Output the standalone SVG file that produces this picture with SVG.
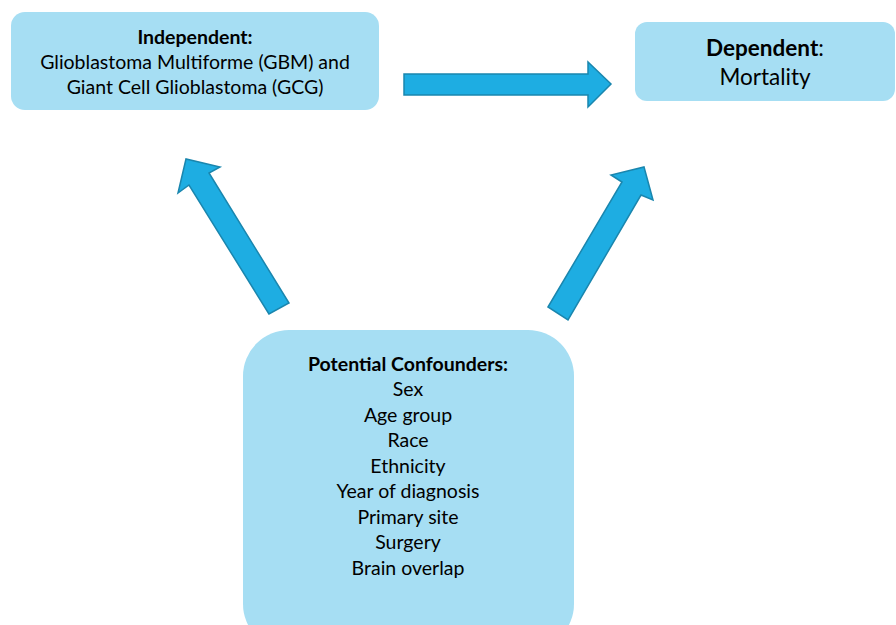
<svg xmlns="http://www.w3.org/2000/svg" width="896" height="625" viewBox="0 0 896 625">
<defs>
<style>
.box{fill:#A6DEF3;}
.arr{fill:#1EADE2;stroke:#1A86AE;stroke-width:1.5;stroke-linejoin:miter;}
text{font-family:Lato,"Open Sans","Liberation Sans",sans-serif;fill:#000;text-anchor:middle;}
.t{font-size:19.5px;}
.b{font-weight:bold;}
.big{font-size:22.5px;}
</style>
</defs>
<rect width="896" height="625" fill="#fff"/>
<g id="connectors">
<polygon class="arr" points="404,74 588,74 588,62 611,84 588,107 588,95 404,95"/>
<polygon class="arr" points="269,314 189,185 178,193 186,159 220,167 209,173 289,303"/>
<polygon class="arr" points="548,307 622,182 611,175 644,167 653,200 641,195 568,320"/>
</g>
<g id="independent">
<rect class="box" x="11" y="12" width="368" height="98" rx="14"/>
<text class="t b" x="195" y="44">Independent:</text>
<text class="t" x="195" y="69">Glioblastoma Multiforme (GBM) and</text>
<text class="t" x="195" y="94">Giant Cell Glioblastoma (GCG)</text>
</g>
<g id="dependent">
<rect class="box" x="635" y="22" width="260" height="79" rx="12"/>
<text class="big" x="765" y="56"><tspan class="b">Dependent</tspan>:</text>
<text class="big" x="765" y="85">Mortality</text>
</g>
<g id="confounders">
<rect class="box" x="243" y="330" width="331" height="320" rx="46"/>
<text class="t b" x="408" y="371">Potential Confounders:</text>
<text class="t" x="408" y="396">Sex</text>
<text class="t" x="408" y="422">Age group</text>
<text class="t" x="408" y="447">Race</text>
<text class="t" x="408" y="473">Ethnicity</text>
<text class="t" x="408" y="498">Year of diagnosis</text>
<text class="t" x="408" y="524">Primary site</text>
<text class="t" x="408" y="549">Surgery</text>
<text class="t" x="408" y="575">Brain overlap</text>
</g>
</svg>
